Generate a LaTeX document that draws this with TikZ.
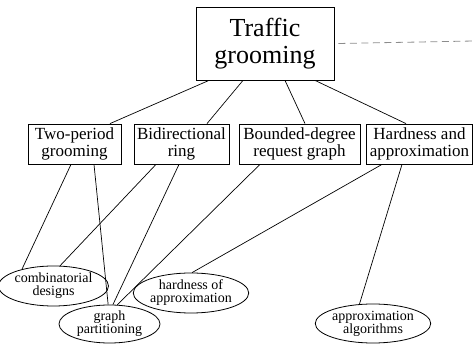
\documentclass[tikz,border=0pt]{standalone}
\usepackage{fontspec}
\setmainfont{Liberation Serif}
\usetikzlibrary{shapes.geometric}
\begin{document}
\begin{tikzpicture}[x=1pt,y=-1pt,
  every node/.style={inner sep=0pt, align=center},
  topic/.style={draw, line width=0.8pt, minimum width=#1, minimum height=40pt,
    font=\fontsize{17}{17}\selectfont},
  maintopic/.style={draw, line width=0.8pt, minimum width=138pt, minimum height=73pt,
    font=\fontsize{26}{27}\selectfont},
  area/.style={draw, ellipse, line width=0.8pt, minimum width=100pt, minimum height=39pt,
    font=\fontsize{14}{13}\selectfont},
  link/.style={line width=0.7pt},
  further/.style={line width=0.8pt, draw=black!45, dash pattern=on 7pt off 4.5pt}]
\useasboundingbox (0,0) rectangle (474,344);

% root and main research directions
\node[maintopic] (root) at (265,43.5) {Traffic\\grooming};
\node[topic=93pt]  (b1) at (74.5,144)  {Two-period\\grooming};
\node[topic=95pt]  (b2) at (181.5,144) {Bidirectional\\ring};
\node[topic=121pt] (b3) at (299.5,144) {Bounded-degree\\request graph};
\node[topic=106pt] (b4) at (419.5,144) {Hardness and\\approximation};

% techniques
\node[area, minimum width=91pt, minimum height=40pt] (cd) at (53.5,286) {combinatorial\\designs};
\node[area, minimum width=101pt, minimum height=38pt] (gp) at (109.5,324) {graph\\partitioning};
\node[area, minimum height=40pt] (ha) at (191,293) {hardness of\\approximation};
\node[area] (aa) at (373,323.5) {approximation\\algorithms};

\coordinate (more) at (474,41);
\draw[further] (root.east) ++(4pt,0) -- (more);

% root to directions
\draw[link] ([xshift=-56pt]root.south) -- ([xshift=35.5pt]b1.north);
\draw[link] ([xshift=-22pt]root.south) -- ([xshift=25.5pt]b2.north);
\draw[link] ([xshift=20pt]root.south)  -- ([xshift=5.5pt]b3.north);
\draw[link] ([xshift=50pt]root.south)  -- ([xshift=-13.5pt]b4.north);

% directions to techniques
\draw[link] ([xshift=-3.5pt]b1.south)  -- (cd.152);
\draw[link] ([xshift=19.5pt]b1.south)  -- (gp.94);
\draw[link] ([xshift=-25.5pt]b2.south) -- (cd.72);
\draw[link] ([xshift=-2.5pt]b2.south)  -- (gp.80);
\draw[link] ([xshift=-39.5pt]b3.south) -- (gp.68);
\draw[link] ([xshift=-37.5pt]b4.south) -- (ha.87);
\draw[link] ([xshift=-17.5pt]b4.south) -- (aa.125);
\end{tikzpicture}
\end{document}
